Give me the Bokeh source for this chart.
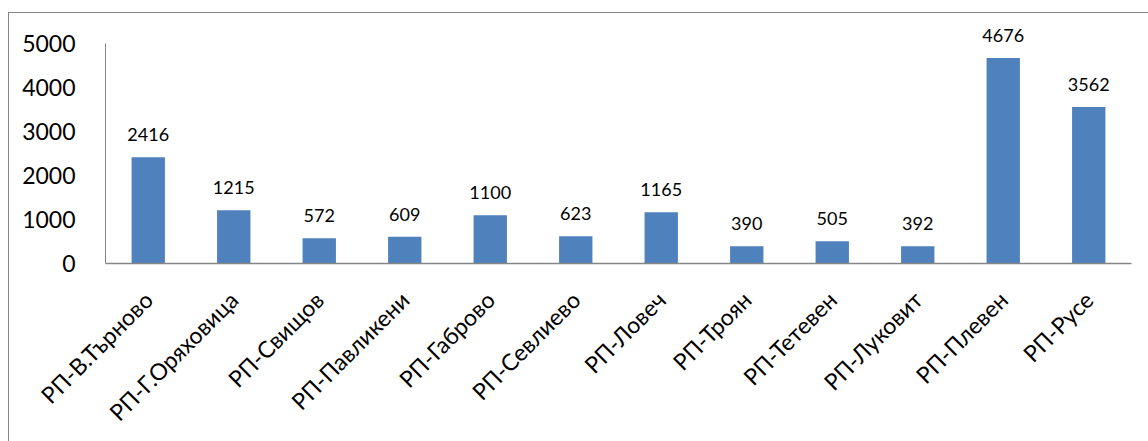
from bokeh.plotting import figure
from bokeh.models import ColumnDataSource, LabelSet, FactorRange
from bokeh.embed import file_html
from bokeh.resources import INLINE
from bokeh.core.properties import value
import math

categories = ["РП-В.Търново", "РП-Г.Оряховица", "РП-Свищов", "РП-Павликени",
              "РП-Габрово", "РП-Севлиево", "РП-Ловеч", "РП-Троян",
              "РП-Тетевен", "РП-Луковит", "РП-Плевен", "РП-Русе"]
values = [2416, 1215, 572, 609, 1100, 623, 1165, 390, 505, 392, 4676, 3562]
y_ticks = [0, 1000, 2000, 3000, 4000, 5000]

FONT = "Lato"
BAR = "#4F81BD"
AX = "#868686"

src = ColumnDataSource(dict(cat=categories, val=values, lbl=[str(v) for v in values]))

p = figure(x_range=FactorRange(*categories, range_padding=0), y_range=(0, 5600),
           width=1140, height=429, output_backend="svg", toolbar_location=None,
           min_border_left=96, min_border_right=18, min_border_top=4, min_border_bottom=179)
p.margin = (12, 0, 0, 8)
p.styles = {"border-top": f"1px solid {AX}", "border-left": f"1px solid {AX}"}

p.vbar(x="cat", top="val", width=0.39, source=src, fill_color=BAR, line_color=None)

labels = LabelSet(x="cat", y="val", text="lbl", source=src, text_align="center",
                  text_baseline="bottom", y_offset=16, text_font=value(FONT),
                  text_font_size="18px", text_color="#000000")
p.add_layout(labels)

p.outline_line_color = None
p.xgrid.grid_line_color = None
p.ygrid.grid_line_color = None

p.yaxis.ticker = y_ticks
p.yaxis.bounds = (0, 5000)
p.yaxis.axis_line_color = AX
p.yaxis.major_tick_line_color = None
p.yaxis.minor_tick_line_color = None
p.yaxis.major_label_text_font = FONT
p.yaxis.major_label_text_font_size = "23px"
p.yaxis.major_label_standoff = 24
p.yaxis.major_label_text_color = "#000000"

p.xaxis.axis_line_color = AX
p.xaxis.axis_line_width = 1.5
p.xaxis.major_tick_line_color = None
p.xaxis.minor_tick_line_color = None
p.xaxis.major_label_orientation = math.pi / 4
p.xaxis.major_label_text_font = FONT
p.xaxis.major_label_text_font_size = "23px"
p.xaxis.major_label_standoff = 26
p.xaxis.major_label_text_color = "#000000"

open("out.html", "w").write(file_html(p, INLINE))
